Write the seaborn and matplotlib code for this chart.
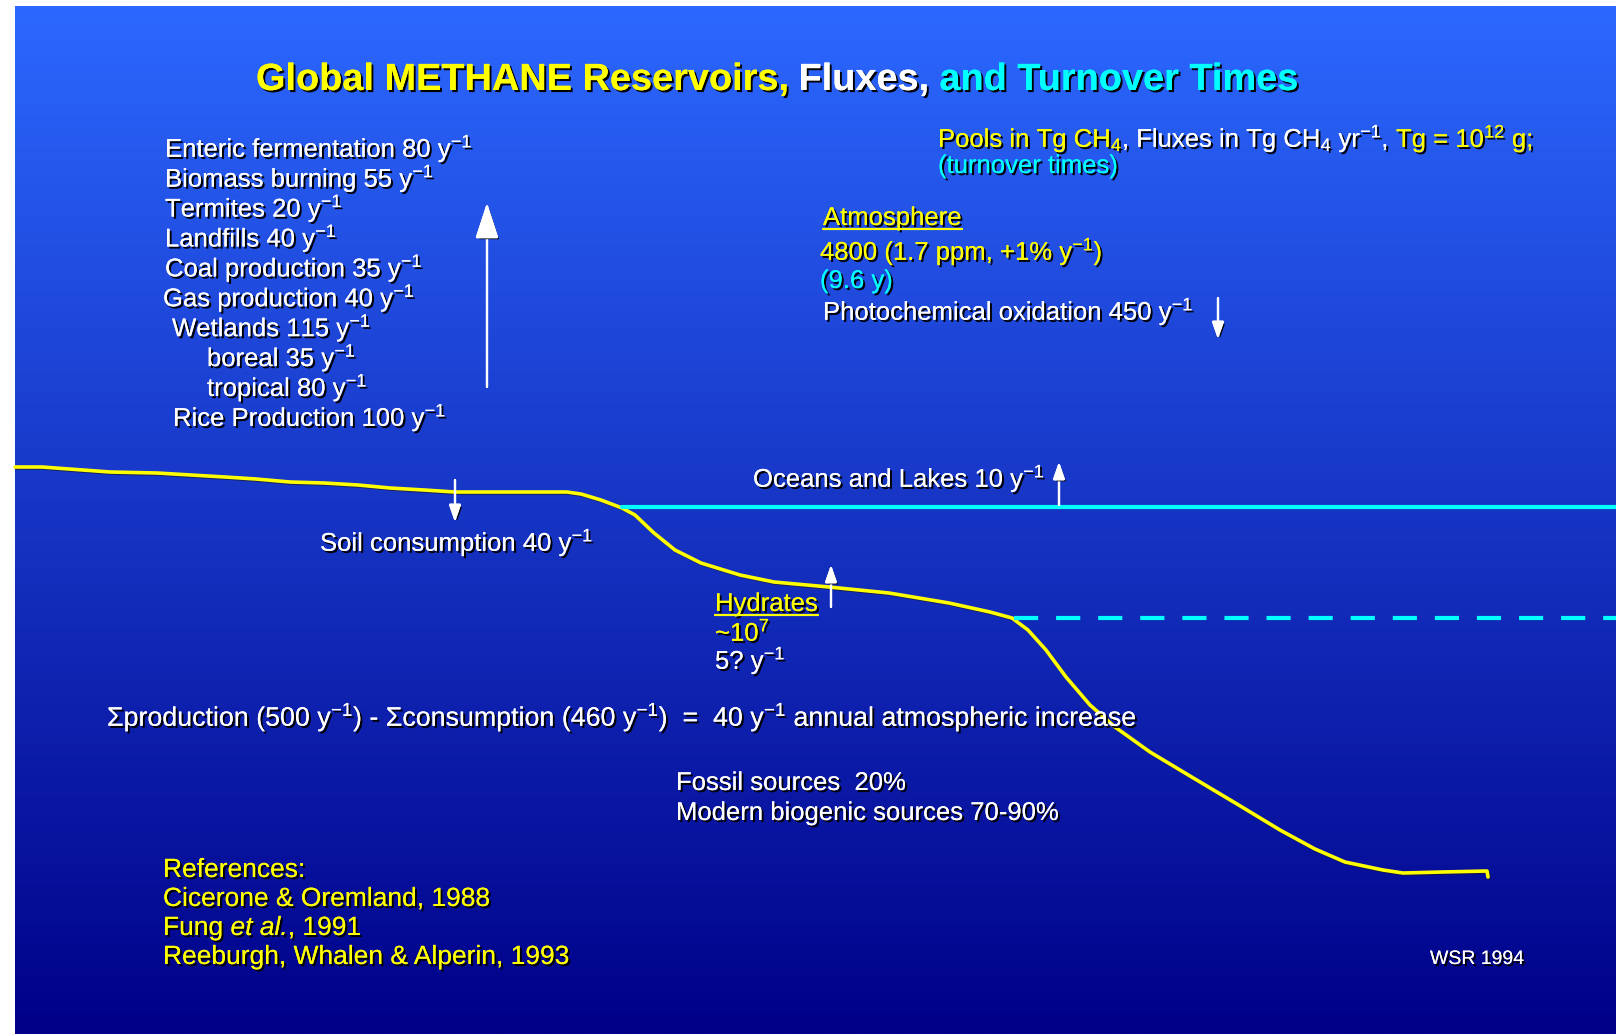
import numpy as np
import pandas as pd
import matplotlib
matplotlib.use("Agg")
import matplotlib.pyplot as plt
import matplotlib.patheffects as pe
import seaborn as sns

# ---------------- data ----------------
# surface / sediment profile (yellow line), in picture units (x right, depth down)
profile_x = [15, 42, 110, 157, 191, 225, 256, 290, 324, 358, 390, 424, 455, 567, 581, 601,
             622, 635, 654, 675, 701, 740, 774, 829, 889, 949, 990, 1012, 1028, 1046, 1066,
             1090, 1115, 1150, 1190, 1237, 1280, 1315, 1345, 1383, 1403, 1442, 1487, 1488]
profile_y = [467, 467, 472, 473, 475, 477, 479, 482, 483, 485, 488, 490, 492, 492, 494, 500,
             508, 515, 533, 550, 563, 575, 582, 587, 593, 603, 612, 618, 630, 650, 677,
             705, 727, 752, 776, 804, 830, 849, 862, 870, 873, 872, 871, 877]
ocean_x = [622, 1616]
ocean_y = [507, 507]
hydrate_x = [1014, 1616]
hydrate_y = [618, 618]

source_names = ["Enteric fermentation", "Biomass burning", "Termites", "Landfills",
                "Coal production", "Gas production", "Wetlands", "boreal", "tropical",
                "Rice Production"]
source_flux = [80, 55, 20, 40, 35, 40, 115, 35, 80, 100]
source_indent = [165, 165, 165, 165, 165, 163, 172, 207, 207, 173]

references = ["References:", "Cicerone & Oremland, 1988", None, "Reeburgh, Whalen & Alperin, 1993"]

# arrows: x, tail y, tip y, size
arrow_x = [487, 455, 1059, 831, 1218]
arrow_tail = [387, 480, 505, 607, 298]
arrow_tip = [203, 522, 462, 565, 339]
arrow_big = [True, False, False, False, False]

# ---------------- styling ----------------
sns.set_theme(style="white")
plt.rcParams["font.family"] = ["Liberation Sans", "DejaVu Sans"]
plt.rcParams["mathtext.fontset"] = "custom"
plt.rcParams["mathtext.rm"] = "Liberation Sans"
plt.rcParams["mathtext.it"] = "Liberation Sans:italic"
plt.rcParams["mathtext.bf"] = "Liberation Sans:bold"

YEL = "#ffff00"
CYA = "#00ffff"
WHT = "#ffffff"
FS = 18.5

W, H = 1616, 1034
fig = plt.figure(figsize=(W / 100, H / 100), dpi=100, facecolor="white")
ax = fig.add_axes([0, 0, 1, 1])

top = np.array([44, 104, 255]) / 255
bot = np.array([0, 0, 136]) / 255
t = np.linspace(0, 1, 256)[:, None, None]
grad = top * (1 - t) + bot * t
ax.imshow(grad, extent=(15, W, H, 6), aspect="auto", interpolation="bilinear", zorder=0)
ax.set_xlim(0, W)
ax.set_ylim(H, 0)
ax.axis("off")

renderer = fig.canvas.get_renderer()
SH = [pe.withSimplePatchShadow(offset=(1.5, -1.5), shadow_rgbFace="black", alpha=1.0), pe.Normal()]


def width(s, **kw):
    tt = ax.text(0, 0, s, **kw)
    w = tt.get_window_extent(renderer).width
    tt.remove()
    return w


def adv(s, **kw):
    return width("|" + s + "|", **kw) - width("||", **kw)


def runs(x, y, parts, size=FS, weight="normal", underline=False):
    x0 = x
    for p in parts:
        txt, col = p[0], p[1]
        style = p[2] if len(p) > 2 else "normal"
        kw = dict(fontsize=size, fontweight=weight, fontstyle=style)
        ax.text(x, y, txt, color=col, ha="left", va="baseline", path_effects=SH, zorder=5, **kw)
        x += adv(txt, **kw)
    if underline:
        ax.plot([x0, x], [y + 4, y + 4], color=parts[0][1], lw=1.5, path_effects=SH, zorder=5)
    return x


# ---------------- lines ----------------
prof = pd.DataFrame({"x": profile_x, "y": profile_y})
sns.lineplot(data=prof, x="x", y="y", sort=False, estimator=None, color=YEL, lw=2.6, ax=ax,
             zorder=3, path_effects=[pe.SimpleLineShadow(offset=(0.8, -0.8), shadow_color="k", alpha=0.6), pe.Normal()])
sns.lineplot(x=ocean_x, y=ocean_y, color=CYA, lw=3, ax=ax, zorder=3)
sns.lineplot(x=hydrate_x, y=hydrate_y, color=CYA, lw=3, ax=ax, zorder=3, linestyle=(0, (5.8, 4.3)))
ax.set_xlim(0, W)
ax.set_ylim(H, 0)
ax.axis("off")

# ---------------- arrows ----------------
for xa, ta, tp, big in zip(arrow_x, arrow_tail, arrow_tip, arrow_big):
    if big:
        style = "-|>,head_length=2.2,head_width=0.72"
    else:
        style = "-|>,head_length=1.0,head_width=0.35"
    an = ax.annotate("", xy=(xa, tp), xytext=(xa, ta),
                     arrowprops=dict(arrowstyle=style, color=WHT, lw=1.6, shrinkA=0, shrinkB=0,
                                     mutation_scale=10), zorder=6)
    an.arrow_patch.set_path_effects(SH)

# ---------------- texts ----------------
runs(256, 90, [("Global METHANE Reservoirs,", YEL), (" Fluxes,", WHT), (" and Turnover Times", CYA)],
     size=27.3, weight="bold")

for i, (nm, fl, xi) in enumerate(zip(source_names, source_flux, source_indent)):
    runs(xi, 157 + 29.9 * i, [(f"{nm} {fl} y$^{{-1}}$", WHT)])

runs(938, 147, [("Pools in Tg CH$_4$", YEL), (", Fluxes in Tg CH$_4$ yr$^{-1}$,", WHT),
                (" Tg = 10$^{12}$ g;", YEL)])
runs(938, 173, [("(turnover times)", CYA)])

runs(823, 225, [("Atmosphere", YEL)], underline=True)
runs(820, 260, [("4800 (1.7 ppm, +1% y$^{-1}$)", YEL)])
runs(820, 288, [("(9.6 y)", CYA)])
runs(823, 320, [("Photochemical oxidation 450 y$^{-1}$", WHT)])

runs(753, 487, [("Oceans and Lakes 10 y$^{-1}$", WHT)])
runs(320, 551, [("Soil consumption 40 y$^{-1}$", WHT)])

runs(715, 611, [("Hydrates", YEL)], underline=True)
runs(715, 641, [("~10$^{7}$", YEL)])
runs(715, 669, [("5? y$^{-1}$", WHT)])

runs(107, 726, [("\u03a3production (500 y$^{-1}$) - \u03a3consumption (460 y$^{-1}$)  =  40 y$^{-1}$ annual atmospheric increase", WHT)],
     size=19.3)

runs(676, 790, [("Fossil sources  20%", WHT)])
runs(676, 820, [("Modern biogenic sources 70-90%", WHT)])

ref_y = [877, 906, 935, 964]
for r, yy in zip(references, ref_y):
    if r is None:
        runs(163, yy, [("Fung ", YEL), ("et al.", YEL, "italic"), (", 1991", YEL)], size=19)
    else:
        runs(163, yy, [(r, YEL)], size=19)

runs(1430, 964, [("WSR 1994", WHT)], size=14)

fig.savefig("out.png", dpi=100, facecolor="white")
